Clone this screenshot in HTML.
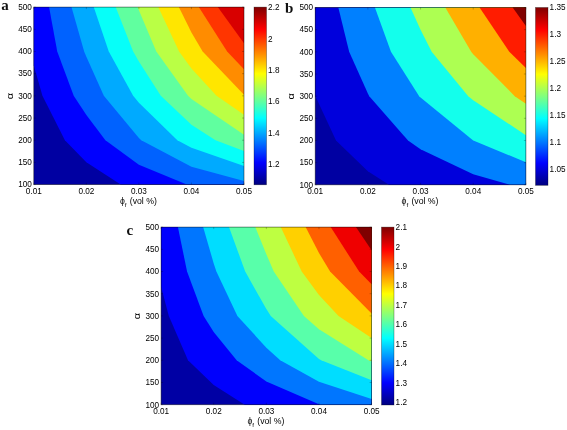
<!DOCTYPE html>
<html lang="en"><head><meta charset="utf-8"><title>Figure</title>
<style>html,body{margin:0;padding:0;background:#fff}svg{display:block}</style>
</head><body>
<svg width="567" height="430" viewBox="0 0 567 430">
<defs><linearGradient id="jet" x1="0" y1="1" x2="0" y2="0">
<stop offset="0.0000" stop-color="#000080"/>
<stop offset="0.0156" stop-color="#00008F"/>
<stop offset="0.0312" stop-color="#00009F"/>
<stop offset="0.0469" stop-color="#0000AF"/>
<stop offset="0.0625" stop-color="#0000BF"/>
<stop offset="0.0781" stop-color="#0000CF"/>
<stop offset="0.0938" stop-color="#0000DF"/>
<stop offset="0.1094" stop-color="#0000EF"/>
<stop offset="0.1250" stop-color="#0000FF"/>
<stop offset="0.1406" stop-color="#0010FF"/>
<stop offset="0.1562" stop-color="#0020FF"/>
<stop offset="0.1719" stop-color="#0030FF"/>
<stop offset="0.1875" stop-color="#0040FF"/>
<stop offset="0.2031" stop-color="#0050FF"/>
<stop offset="0.2188" stop-color="#0060FF"/>
<stop offset="0.2344" stop-color="#0070FF"/>
<stop offset="0.2500" stop-color="#0080FF"/>
<stop offset="0.2656" stop-color="#008FFF"/>
<stop offset="0.2812" stop-color="#009FFF"/>
<stop offset="0.2969" stop-color="#00AFFF"/>
<stop offset="0.3125" stop-color="#00BFFF"/>
<stop offset="0.3281" stop-color="#00CFFF"/>
<stop offset="0.3438" stop-color="#00DFFF"/>
<stop offset="0.3594" stop-color="#00EFFF"/>
<stop offset="0.3750" stop-color="#00FFFF"/>
<stop offset="0.3906" stop-color="#10FFEF"/>
<stop offset="0.4062" stop-color="#20FFDF"/>
<stop offset="0.4219" stop-color="#30FFCF"/>
<stop offset="0.4375" stop-color="#40FFBF"/>
<stop offset="0.4531" stop-color="#50FFAF"/>
<stop offset="0.4688" stop-color="#60FF9F"/>
<stop offset="0.4844" stop-color="#70FF8F"/>
<stop offset="0.5000" stop-color="#80FF80"/>
<stop offset="0.5156" stop-color="#8FFF70"/>
<stop offset="0.5312" stop-color="#9FFF60"/>
<stop offset="0.5469" stop-color="#AFFF50"/>
<stop offset="0.5625" stop-color="#BFFF40"/>
<stop offset="0.5781" stop-color="#CFFF30"/>
<stop offset="0.5938" stop-color="#DFFF20"/>
<stop offset="0.6094" stop-color="#EFFF10"/>
<stop offset="0.6250" stop-color="#FFFF00"/>
<stop offset="0.6406" stop-color="#FFEF00"/>
<stop offset="0.6562" stop-color="#FFDF00"/>
<stop offset="0.6719" stop-color="#FFCF00"/>
<stop offset="0.6875" stop-color="#FFBF00"/>
<stop offset="0.7031" stop-color="#FFAF00"/>
<stop offset="0.7188" stop-color="#FF9F00"/>
<stop offset="0.7344" stop-color="#FF8F00"/>
<stop offset="0.7500" stop-color="#FF8000"/>
<stop offset="0.7656" stop-color="#FF7000"/>
<stop offset="0.7812" stop-color="#FF6000"/>
<stop offset="0.7969" stop-color="#FF5000"/>
<stop offset="0.8125" stop-color="#FF4000"/>
<stop offset="0.8281" stop-color="#FF3000"/>
<stop offset="0.8438" stop-color="#FF2000"/>
<stop offset="0.8594" stop-color="#FF1000"/>
<stop offset="0.8750" stop-color="#FF0000"/>
<stop offset="0.8906" stop-color="#EF0000"/>
<stop offset="0.9062" stop-color="#DF0000"/>
<stop offset="0.9219" stop-color="#CF0000"/>
<stop offset="0.9375" stop-color="#BF0000"/>
<stop offset="0.9531" stop-color="#AF0000"/>
<stop offset="0.9688" stop-color="#9F0000"/>
<stop offset="0.9844" stop-color="#8F0000"/>
<stop offset="1.0000" stop-color="#800000"/>
</linearGradient></defs>
<rect width="567" height="430" fill="#fff"/>
<g>
<rect x="33.8" y="7.1" width="210.2" height="177.5" fill="#0000A2"/>
<path d="M33.8,7.1 L86.35,7.1 L138.9,7.1 L191.45,7.1 L244,7.1 L244,51.48 L244,95.85 L244,140.22 L244,184.6 L191.45,184.6 L138.9,184.6 L120.67,184.6 L86.35,162.26 L64.91,140.22 L42.43,95.85 L33.8,65.61 L33.8,51.48 L33.8,7.1Z" fill="#0000FF"/>
<path d="M49.07,7.1 L86.35,7.1 L138.9,7.1 L191.45,7.1 L244,7.1 L244,51.48 L244,95.85 L244,140.22 L244,184.6 L191.45,184.6 L186.79,184.6 L138.9,164.87 L105.42,140.22 L86.35,115 L73.71,95.85 L57.25,51.47 L49.07,7.1Z" fill="#0062FF"/>
<path d="M71.48,7.1 L86.35,7.1 L138.9,7.1 L191.45,7.1 L244,7.1 L244,51.48 L244,95.85 L244,140.22 L244,180.9 L191.45,166.86 L141.27,140.22 L138.9,137.92 L103.82,95.85 L86.35,56.8 L84.16,51.48 L71.48,7.1Z" fill="#00AAFF"/>
<path d="M93.73,7.1 L138.9,7.1 L191.45,7.1 L244,7.1 L244,51.48 L244,95.85 L244,140.22 L244,165.95 L191.45,147.72 L177.33,140.22 L138.9,102.76 L133.14,95.85 L108.77,51.47 L93.73,7.1Z" fill="#06FFF9"/>
<path d="M115.66,7.1 L138.9,7.1 L191.45,7.1 L244,7.1 L244,51.48 L244,95.85 L244,140.22 L244,151 L215.51,140.22 L191.45,124.65 L160.79,95.85 L138.9,61.51 L133.17,51.48 L115.66,7.1Z" fill="#60FF9F"/>
<path d="M137.58,7.1 L138.9,7.1 L191.45,7.1 L244,7.1 L244,51.48 L244,95.85 L244,134.69 L191.45,99.05 L188.04,95.85 L156.32,51.48 L138.9,10.33 L137.58,7.1Z" fill="#BAFF45"/>
<path d="M158.25,7.1 L191.45,7.1 L244,7.1 L244,51.48 L244,95.85 L244,114.86 L216.52,95.85 L191.45,68.48 L179.08,51.48 L158.25,7.1Z" fill="#FFE600"/>
<path d="M178.84,7.1 L191.45,7.1 L244,7.1 L244,51.48 L244,94.79 L202.64,51.48 L191.45,32.52 L178.84,7.1Z" fill="#FF8C00"/>
<path d="M198.8,7.1 L244,7.1 L244,51.48 L244,69.14 L227.13,51.47 L198.8,7.1Z" fill="#FF3500"/>
<path d="M217.76,7.1 L244,7.1 L244,43.32 L217.76,7.1Z" fill="#D80000"/>
<rect x="33.8" y="7.1" width="210.2" height="177.5" fill="none" stroke="#000" stroke-opacity="0.55" stroke-width="0.8"/>
<path d="M33.8,184.6v-2 M33.8,7.1v2 M86.35,184.6v-2 M86.35,7.1v2 M138.9,184.6v-2 M138.9,7.1v2 M191.45,184.6v-2 M191.45,7.1v2 M244,184.6v-2 M244,7.1v2 M33.8,7.1h2 M244,7.1h-2 M33.8,29.29h2 M244,29.29h-2 M33.8,51.48h2 M244,51.48h-2 M33.8,73.66h2 M244,73.66h-2 M33.8,95.85h2 M244,95.85h-2 M33.8,118.04h2 M244,118.04h-2 M33.8,140.22h2 M244,140.22h-2 M33.8,162.41h2 M244,162.41h-2 M33.8,184.6h2 M244,184.6h-2" stroke="#000" stroke-opacity="0.45" stroke-width="0.5" fill="none"/>
<rect x="254" y="7.1" width="12.5" height="177.7" fill="url(#jet)"/>
<rect x="254" y="7.1" width="12.5" height="177.7" fill="none" stroke="#000" stroke-opacity="0.5" stroke-width="0.6"/>
<g font-family="'Liberation Sans', Arial, sans-serif" font-size="8.2" fill="#000">
<text x="268.1" y="10.2">2.2</text>
<text x="268.1" y="41.6">2</text>
<text x="268.1" y="73">1.8</text>
<text x="268.1" y="104.4">1.6</text>
<text x="268.1" y="135.7">1.4</text>
<text x="268.1" y="167">1.2</text>
<text x="31.8" y="9.9" text-anchor="end">500</text>
<text x="31.8" y="32.09" text-anchor="end">450</text>
<text x="31.8" y="54.27" text-anchor="end">400</text>
<text x="31.8" y="76.46" text-anchor="end">350</text>
<text x="31.8" y="98.65" text-anchor="end">300</text>
<text x="31.8" y="120.84" text-anchor="end">250</text>
<text x="31.8" y="143.03" text-anchor="end">200</text>
<text x="31.8" y="165.21" text-anchor="end">150</text>
<text x="31.8" y="187.4" text-anchor="end">100</text>
<text x="33.8" y="193.8" text-anchor="middle">0.01</text>
<text x="86.35" y="193.8" text-anchor="middle">0.02</text>
<text x="138.9" y="193.8" text-anchor="middle">0.03</text>
<text x="191.45" y="193.8" text-anchor="middle">0.04</text>
<text x="244" y="193.8" text-anchor="middle">0.05</text>
<text x="138.4" y="204.1" text-anchor="middle" font-size="8.7">ϕ<tspan font-size="6.2" dy="2.4">f</tspan><tspan dy="-2.4" dx="0.8"> (vol %)</tspan></text>
<text transform="translate(12.6,96.15) rotate(-90) scale(1.3,1)" text-anchor="middle" font-size="8.4">α</text>
</g>
<text x="1.2" y="9.5" font-family="'Liberation Serif', 'Times New Roman', serif" font-weight="bold" font-size="15" fill="#111">a</text>
</g>
<g>
<rect x="315.2" y="7.5" width="210.7" height="177.3" fill="#0000A2"/>
<path d="M315.2,7.5 L367.88,7.5 L420.55,7.5 L473.22,7.5 L525.9,7.5 L525.9,51.83 L525.9,96.15 L525.9,140.48 L525.9,184.8 L473.22,184.8 L420.55,184.8 L389.01,184.8 L367.88,171.25 L336.02,140.48 L315.46,96.15 L315.2,95.1 L315.2,51.83 L315.2,7.5Z" fill="#0000DC"/>
<path d="M338.33,7.5 L367.88,7.5 L420.55,7.5 L473.22,7.5 L525.9,7.5 L525.9,51.83 L525.9,96.15 L525.9,140.48 L525.9,184.8 L509.91,184.8 L473.22,174.19 L420.55,149.34 L408.04,140.48 L369.26,96.15 L367.88,93.53 L349.17,51.83 L338.33,7.5Z" fill="#0080FF"/>
<path d="M374.92,7.5 L420.55,7.5 L473.22,7.5 L525.9,7.5 L525.9,51.83 L525.9,96.15 L525.9,140.48 L525.9,162.26 L473.27,140.48 L473.22,140.45 L420.55,97.58 L419.18,96.15 L390.97,51.83 L374.92,7.5Z" fill="#13FFEC"/>
<path d="M410.48,7.5 L420.55,7.5 L473.22,7.5 L525.9,7.5 L525.9,51.83 L525.9,96.15 L525.9,135.25 L473.22,100.22 L468.26,96.15 L431.69,51.83 L420.55,29.7 L410.48,7.5Z" fill="#ADFF52"/>
<path d="M445.31,7.5 L473.22,7.5 L525.9,7.5 L525.9,51.83 L525.9,96.15 L525.9,103.75 L514.75,96.15 L473.22,54.21 L471.2,51.83 L445.31,7.5Z" fill="#FFB000"/>
<path d="M479.57,7.5 L525.9,7.5 L525.9,51.83 L525.9,68.02 L509.3,51.83 L479.57,7.5Z" fill="#FF1C00"/>
<path d="M512.67,7.5 L525.9,7.5 L525.9,25.89 L512.67,7.5Z" fill="#800000"/>
<rect x="315.2" y="7.5" width="210.7" height="177.3" fill="none" stroke="#000" stroke-opacity="0.55" stroke-width="0.8"/>
<path d="M315.2,184.8v-2 M315.2,7.5v2 M367.88,184.8v-2 M367.88,7.5v2 M420.55,184.8v-2 M420.55,7.5v2 M473.22,184.8v-2 M473.22,7.5v2 M525.9,184.8v-2 M525.9,7.5v2 M315.2,7.5h2 M525.9,7.5h-2 M315.2,29.66h2 M525.9,29.66h-2 M315.2,51.83h2 M525.9,51.83h-2 M315.2,73.99h2 M525.9,73.99h-2 M315.2,96.15h2 M525.9,96.15h-2 M315.2,118.31h2 M525.9,118.31h-2 M315.2,140.48h2 M525.9,140.48h-2 M315.2,162.64h2 M525.9,162.64h-2 M315.2,184.8h2 M525.9,184.8h-2" stroke="#000" stroke-opacity="0.45" stroke-width="0.5" fill="none"/>
<rect x="535.5" y="7.5" width="12.5" height="177.8" fill="url(#jet)"/>
<rect x="535.5" y="7.5" width="12.5" height="177.8" fill="none" stroke="#000" stroke-opacity="0.5" stroke-width="0.6"/>
<g font-family="'Liberation Sans', Arial, sans-serif" font-size="8.2" fill="#000">
<text x="549.6" y="10.4">1.35</text>
<text x="549.6" y="37.2">1.3</text>
<text x="549.6" y="64.1">1.25</text>
<text x="549.6" y="90.9">1.2</text>
<text x="549.6" y="117.8">1.15</text>
<text x="549.6" y="144.6">1.1</text>
<text x="549.6" y="171.5">1.05</text>
<text x="313.2" y="10.3" text-anchor="end">500</text>
<text x="313.2" y="32.46" text-anchor="end">450</text>
<text x="313.2" y="54.62" text-anchor="end">400</text>
<text x="313.2" y="76.79" text-anchor="end">350</text>
<text x="313.2" y="98.95" text-anchor="end">300</text>
<text x="313.2" y="121.11" text-anchor="end">250</text>
<text x="313.2" y="143.28" text-anchor="end">200</text>
<text x="313.2" y="165.44" text-anchor="end">150</text>
<text x="313.2" y="187.6" text-anchor="end">100</text>
<text x="315.2" y="194" text-anchor="middle">0.01</text>
<text x="367.88" y="194" text-anchor="middle">0.02</text>
<text x="420.55" y="194" text-anchor="middle">0.03</text>
<text x="473.22" y="194" text-anchor="middle">0.04</text>
<text x="525.9" y="194" text-anchor="middle">0.05</text>
<text x="420.05" y="204.3" text-anchor="middle" font-size="8.7">ϕ<tspan font-size="6.2" dy="2.4">f</tspan><tspan dy="-2.4" dx="0.8"> (vol %)</tspan></text>
<text transform="translate(294,96.45) rotate(-90) scale(1.3,1)" text-anchor="middle" font-size="8.4">α</text>
</g>
<text x="285" y="12.9" font-family="'Liberation Serif', 'Times New Roman', serif" font-weight="bold" font-size="15" fill="#111">b</text>
</g>
<g>
<rect x="161.1" y="227.1" width="210.5" height="177.6" fill="#0000A4"/>
<path d="M161.1,227.1 L213.72,227.1 L266.35,227.1 L318.98,227.1 L371.6,227.1 L371.6,271.5 L371.6,315.9 L371.6,360.3 L371.6,404.7 L318.98,404.7 L266.35,404.7 L244.75,404.7 L213.72,384.88 L188.01,360.3 L168.83,315.9 L161.1,286.79 L161.1,271.5 L161.1,227.1Z" fill="#0000FD"/>
<path d="M177.91,227.1 L213.72,227.1 L266.35,227.1 L318.98,227.1 L371.6,227.1 L371.6,271.5 L371.6,315.9 L371.6,360.3 L371.6,404.7 L320.28,404.7 L318.98,404.3 L266.35,381.46 L236.61,360.3 L213.72,332.09 L203.62,315.9 L187.06,271.5 L177.91,227.1Z" fill="#0076FF"/>
<path d="M203.15,227.1 L213.72,227.1 L266.35,227.1 L318.98,227.1 L371.6,227.1 L371.6,271.5 L371.6,315.9 L371.6,360.3 L371.6,398.97 L318.98,381.77 L280.25,360.3 L266.35,347.75 L237.4,315.9 L216.39,271.5 L213.72,263.47 L203.15,227.1Z" fill="#00DDFF"/>
<path d="M228.98,227.1 L266.35,227.1 L318.98,227.1 L371.6,227.1 L371.6,271.5 L371.6,315.9 L371.6,360.3 L371.6,380.25 L321.2,360.3 L318.98,358.91 L270.74,315.9 L266.35,309.12 L245.2,271.5 L228.98,227.1Z" fill="#58FFAA"/>
<path d="M255.26,227.1 L266.35,227.1 L318.98,227.1 L371.6,227.1 L371.6,271.5 L371.6,315.9 L371.6,360.3 L371.6,361.53 L368.49,360.3 L318.98,329.32 L303.92,315.9 L273.78,271.5 L266.35,254.34 L255.26,227.1Z" fill="#BEFF41"/>
<path d="M280.73,227.1 L318.98,227.1 L371.6,227.1 L371.6,271.5 L371.6,315.9 L371.6,337.94 L338.57,315.9 L318.98,295.05 L301.73,271.5 L280.73,227.1Z" fill="#FFD000"/>
<path d="M305.62,227.1 L318.98,227.1 L371.6,227.1 L371.6,271.5 L371.6,313.58 L330.09,271.5 L318.98,253.01 L305.62,227.1Z" fill="#FF6000"/>
<path d="M330.67,227.1 L371.6,227.1 L371.6,271.5 L371.6,284.14 L359.13,271.5 L330.67,227.1Z" fill="#EF0000"/>
<path d="M355.9,227.1 L371.6,227.1 L371.6,250.26 L355.9,227.1Z" fill="#800000"/>
<rect x="161.1" y="227.1" width="210.5" height="177.6" fill="none" stroke="#000" stroke-opacity="0.55" stroke-width="0.8"/>
<path d="M161.1,404.7v-2 M161.1,227.1v2 M213.72,404.7v-2 M213.72,227.1v2 M266.35,404.7v-2 M266.35,227.1v2 M318.98,404.7v-2 M318.98,227.1v2 M371.6,404.7v-2 M371.6,227.1v2 M161.1,227.1h2 M371.6,227.1h-2 M161.1,249.3h2 M371.6,249.3h-2 M161.1,271.5h2 M371.6,271.5h-2 M161.1,293.7h2 M371.6,293.7h-2 M161.1,315.9h2 M371.6,315.9h-2 M161.1,338.1h2 M371.6,338.1h-2 M161.1,360.3h2 M371.6,360.3h-2 M161.1,382.5h2 M371.6,382.5h-2 M161.1,404.7h2 M371.6,404.7h-2" stroke="#000" stroke-opacity="0.45" stroke-width="0.5" fill="none"/>
<rect x="381.5" y="227.1" width="12.5" height="177.9" fill="url(#jet)"/>
<rect x="381.5" y="227.1" width="12.5" height="177.9" fill="none" stroke="#000" stroke-opacity="0.5" stroke-width="0.6"/>
<g font-family="'Liberation Sans', Arial, sans-serif" font-size="8.2" fill="#000">
<text x="395.6" y="230.1">2.1</text>
<text x="395.6" y="249.5">2</text>
<text x="395.6" y="269">1.9</text>
<text x="395.6" y="288.4">1.8</text>
<text x="395.6" y="307.9">1.7</text>
<text x="395.6" y="327.3">1.6</text>
<text x="395.6" y="346.8">1.5</text>
<text x="395.6" y="366.2">1.4</text>
<text x="395.6" y="385.7">1.3</text>
<text x="395.6" y="405.1">1.2</text>
<text x="159.1" y="229.9" text-anchor="end">500</text>
<text x="159.1" y="252.1" text-anchor="end">450</text>
<text x="159.1" y="274.3" text-anchor="end">400</text>
<text x="159.1" y="296.5" text-anchor="end">350</text>
<text x="159.1" y="318.7" text-anchor="end">300</text>
<text x="159.1" y="340.9" text-anchor="end">250</text>
<text x="159.1" y="363.1" text-anchor="end">200</text>
<text x="159.1" y="385.3" text-anchor="end">150</text>
<text x="159.1" y="407.5" text-anchor="end">100</text>
<text x="161.1" y="413.9" text-anchor="middle">0.01</text>
<text x="213.72" y="413.9" text-anchor="middle">0.02</text>
<text x="266.35" y="413.9" text-anchor="middle">0.03</text>
<text x="318.98" y="413.9" text-anchor="middle">0.04</text>
<text x="371.6" y="413.9" text-anchor="middle">0.05</text>
<text x="265.85" y="424.2" text-anchor="middle" font-size="8.7">ϕ<tspan font-size="6.2" dy="2.4">f</tspan><tspan dy="-2.4" dx="0.8"> (vol %)</tspan></text>
<text transform="translate(139.9,316.2) rotate(-90) scale(1.3,1)" text-anchor="middle" font-size="8.4">α</text>
</g>
<text x="126.6" y="235.1" font-family="'Liberation Serif', 'Times New Roman', serif" font-weight="bold" font-size="15" fill="#111">c</text>
</g>
</svg>
</body></html>
